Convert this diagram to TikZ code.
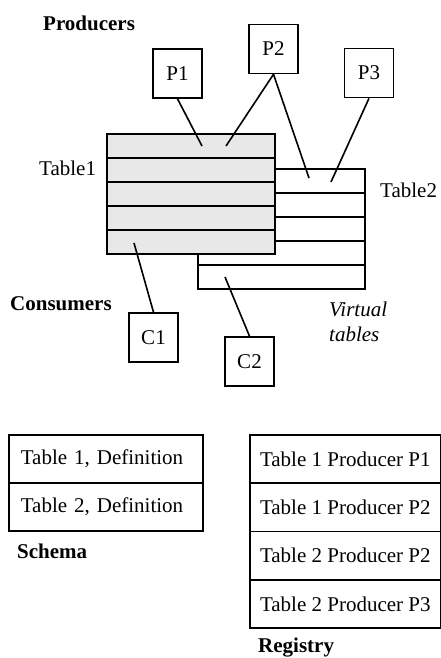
\documentclass[tikz,border=0pt]{standalone}
\usepackage{fontspec}
\setmainfont{Liberation Serif}
\begin{document}
\begin{tikzpicture}[x=1pt,y=-1pt,
  every node/.style={font=\fontsize{21}{25}\selectfont},
  ln/.style={line width=1.6pt},
  pbox/.style={draw,line width=1.6pt,minimum width=49pt,minimum height=49pt,inner sep=0pt},
  trow/.style={draw,line width=1.6pt,minimum width=168pt,minimum height=24pt,inner sep=0pt,anchor=north west},
  grayrow/.style={trow,fill=black!9},
  whiterow/.style={trow,fill=white},
  defrow/.style={draw,line width=1.6pt,minimum width=194pt,minimum height=48pt,inner xsep=12pt,inner ysep=0pt,text width=170pt,align=left,anchor=north west},
  regrow/.style={draw,line width=1.6pt,minimum width=191pt,minimum height=48.3pt,inner sep=0pt,anchor=north west},
  title/.style={font=\fontsize{21}{25}\selectfont\bfseries,anchor=base west,inner sep=0pt},
  lbl/.style={anchor=base west,inner sep=0pt}
]
\useasboundingbox (0,0) rectangle (441,658);

% Table2 (behind)
\foreach \i in {0,...,4}{
  \node[whiterow,minimum width=167pt] (tb\i) at (197,{168+24*\i}) {};
}
% Table1 (front)
\foreach \i in {0,...,4}{
  \node[grayrow] (ta\i) at (106,{133+24*\i}) {};
}

% Producers and consumers
\node[pbox] (P1) at (177.5,73.5) {P1};
\node[pbox] (P2) at (273.5,49) {P2};
\node[pbox] (P3) at (369,73) {P3};
\node[pbox] (C1) at (153.5,337.5) {C1};
\node[pbox] (C2) at (249.5,361.5) {C2};

\coordinate (a1) at (202,146);
\coordinate (a2) at (226,146);
\coordinate (b1) at (309,178);
\coordinate (b2) at (331,182);
\coordinate (c1) at (134,243);
\coordinate (c2) at (225,277);

\draw[ln] (P1.south) -- (a1);
\draw[ln] (P2.south) -- (a2);
\draw[ln] (P2.south) -- (b1);
\draw[ln] (P3.south) -- (b2);
\draw[ln] (c1) -- (C1.north);
\draw[ln] (c2) -- (C2.north);

% Labels
\node[title] (prod) at (43,31) {Producers};
\node[title] (cons) at (10,310) {Consumers};
\node[lbl] (t1l) at (39,175) {Table1};
\node[lbl] (t2l) at (380,197) {Table2};
\node[anchor=north west,inner sep=0pt,align=left,font=\fontsize{21}{25}\selectfont\itshape] (virt) at (329,302) {Virtual\\tables};

% Schema
\node[defrow] (s1) at (8,434) {Table 1, Definition};
\node[defrow] (s2) at (8,482) {Table 2, Definition};
\node[title] (schema) at (17,558) {Schema};

% Registry
\node[regrow] (r1) at (249,434) {Table 1 Producer P1};
\node[regrow] (r2) at (249,482.3) {Table 1 Producer P2};
\node[regrow] (r3) at (249,530.6) {Table 2 Producer P2};
\node[regrow] (r4) at (249,578.9) {Table 2 Producer P3};
\node[title] (reg) at (258,652) {Registry};
\end{tikzpicture}
\end{document}
